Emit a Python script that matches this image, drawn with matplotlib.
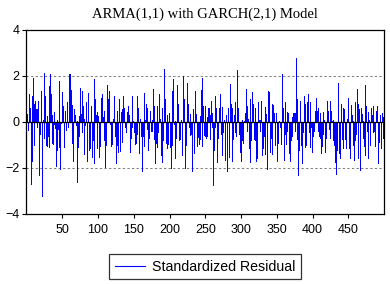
import numpy as np
import matplotlib
matplotlib.use("Agg")
import matplotlib.pyplot as plt

# standardized residuals
resid_1 = [0.35, -0.33, 0.1, 1.2, 0.6, -2.7, 1.15, -1.7, 1.9, 0.8, -1.0, 0.9, 0.55, 0.55, -0.2, 0.9,
           -2.3, -1.0, -0.5, 1.35, -2.15, -3.2, 0.1, 2.15, -0.7, 1.15, -1.0, 0.25, -1.05, -0.6, -1.1,
           1.55, 2.1, 1.2, 0.3, -0.9, -0.95, 0.45, -0.1, -0.25, -1.9, -1.2, 0.1, -0.3, 1.8, -1.1,
           -2.05, -0.05, 1.3, 1.25, 0.7, -1.1, -0.95, 0.5, -0.35, 0.85, 0.3, -0.2, 1.55, 2.1, 2.1,
           1.4, 0.75, -0.9, -1.7, 0.45, 0.55, 0.3, -0.15, 0.05, -2.6, -1.1, -0.6, 0.25, 1.5, 0.35,
           -0.45, 1.35, 0.7, -1.4, 0.15, -0.15, 0.85, -1.7]
resid_2 = [-0.25, 1.25, -1.2, -0.6, -1.15, 0.7, -1.1, -1.5, -0.8, -1.8, 1.85, 1.0, 0.3, -1.15, 0.45,
           0.25, -1.5, -0.7, -1.05, 1.05, 0.5, 1.2, 0.2, -0.8, 0.5, -1.95, -1.0, 0.35, 1.6, 1.0, 1.35,
           0.3, -0.1, -1.05, -0.95, -0.5, 0.15, 0.85, 1.15, -0.6, -1.8, -1.0, 0.5, -1.3, 1.0, 0.5,
           -1.25, 0.45, -0.85, 0.55, 1.15, 0.6, 0.15, -0.2, -0.45, 0.15, 0.45, 0.7, 0.3, 0.05, -1.3,
           -0.7, -0.2, 1.15, 0.05, -0.45, 0.02, -0.95, -0.9, -0.5, 1.15, 0.6, -1.35, -0.7, 0.15, -0.6,
           -2.15, -1.25, -0.6, 1.25, -1.05, 0.1, 0.8, 0.6, -0.3]
resid_3 = [-1.2, -0.7, -0.3, 0.5, -0.4, 0.1, -0.4, 1.45, 0.7, -0.75, -1.8, -0.9, 0.7, -1.1, -0.45,
           1.2, 0.6, 0.15, -1.45, 0.6, -1.75, -0.8, 0.05, 2.3, 1.0, -0.9, -1.15, 0.3, -0.95, 0.4,
           -1.1, -0.7, -2.0, -1.0, 1.35, 1.85, -0.1, 0.05, -1.55, -0.7, 0.85, 1.6, 0.8, -0.8, -0.75,
           -0.7, 0.1, -1.45, -0.5, 2.0, 1.0, -0.45, -2.0, -1.0, 0.3, 1.7, 0.8, -0.2, 0.35, -0.55,
           -0.5, -2.15, -1.2, 0.55, -1.35, 1.35, 0.6, 0.35, -0.8, -1.05, -0.65, -0.95, 0.25, -0.75,
           1.4, 1.9, -1.05, 0.7, -0.55, 0.7, -0.6, -0.7, 0.2, -0.6]
resid_4 = [0.6, 0.6, 0.3, -0.75, 0.9, 0.4, -0.2, -2.75, -1.2, -0.2, 1.15, 0.6, -1.75, -1.4, -0.7,
           0.6, 1.2, 0.6, -0.5, 0.65, -1.45, -0.45, 0.1, -1.65, -0.8, 0.3, -2.15, -1.0, 0.6, -1.5,
           1.65, 0.8, 0.8, 0.6, -1.7, -0.75, 0.3, -0.45, 0.85, -0.6, 2.25, 1.0, 0.6, -0.5, -0.6,
           -1.3, -1.7, -0.8, 0.1, -0.9, 0.05, 0.4, 0.3, 1.45, 0.7, -0.4, 0.15, -1.15, 1.0, -1.75,
           -0.8, 0.35, 1.3, 0.8, -0.75, -0.8, 0.6, -1.7, -1.55, -0.7, 0.85, 0.1, -0.4, 0.08, 0.9,
           -1.45, -0.8, -1.15, -0.6, -1.4, 0.65, 0.35, -1.85, -2.05]
resid_5 = [1.35, 1.3, -0.1, -1.3, -0.7, -1.4, 0.8, 0.75, 0.4, -1.0, -0.75, 0.4, -0.45, -1.7, -0.9,
           0.05, -0.2, -0.1, -0.95, 2.1, 1.3, 0.6, -1.65, -0.5, 0.85, -0.95, -0.4, 0.45, 0.4, -1.35,
           -1.25, -1.7, -0.8, 0.2, -0.6, 0.4, 0.4, -0.4, 0.4, 2.8, 1.0, -0.75, -2.3, -1.2, 0.45, 0.9,
           -1.0, -1.8, -0.9, -0.45, 1.15, 0.8, -1.1, -1.0, 0.85, 0.4, 1.2, -0.45, -1.1, 0.85, -0.2,
           -1.3, -0.6, -0.3, -0.4, 0.05, 0.5, 1.05, 0.5, -0.4, 0.6, -0.6, -0.7, 0.4, -1.35, -1.05,
           -0.5, 0.45, 0.1, -1.05, -1.3, -0.7, 0.9, 0.5]
resid_6 = [0.1, -0.3, -0.7, 0.9, 0.5, 0.05, -0.8, 0.1, -1.0, -0.5, -1.75, -2.25, -1.2, 1.7, 0.9,
           -1.35, -0.6, -1.55, 0.8, -0.75, -1.15, 0.6, 0.55, -0.75, -0.4, -1.15, 0.15, 1.05, 0.35,
           -1.15, -1.55, -0.65, 0.75, 0.3, 0.05, -1.0, -1.65, -0.8, 0.85, -0.5, 1.45, 0.8, -1.55,
           0.55, -2.1, -1.0, 0.6, 0.35, -0.7, 0.05, -1.05, -1.45, 1.6, 0.7, -0.4, -1.55, 0.45, 0.1,
           -1.0, -0.65, 0.6, 0.3, 0.7, -0.45, -0.4, -0.85, -1.05, 0.5, 0.7, -1.8, -0.5, -0.85, 0.3,
           0.25, -1.15, 0.4, 0.2, -0.7, -0.3]

resid = np.array(resid_1 + resid_2 + resid_3 + resid_4 + resid_5 + resid_6)
obs = np.arange(1, len(resid) + 1)

x_ticks = [50, 100, 150, 200, 250, 300, 350, 400, 450]
y_ticks = [-4, -2, 0, 2, 4]
title = "ARMA(1,1) with GARCH(2,1) Model"
label = "Standardized Residual"

sans = "Liberation Sans"
serif = "Liberation Serif"

fig = plt.figure(figsize=(3.9, 2.84), dpi=100)
ax = fig.add_axes([26.5 / 390, 70 / 284, (384 - 26.5) / 390, 184 / 284])

ax.axhline(2, color="#808080", lw=0.75, dashes=(2.2, 2.2), zorder=1)
ax.axhline(-2, color="#808080", lw=0.75, dashes=(2.2, 2.2), zorder=1)
ax.vlines(obs, 0, resid, color="#0000ff", lw=0.5, antialiased=False, zorder=2)
ax.axhline(0, color="black", lw=0.9, zorder=3)
# proxy line for legend
ax.plot([], [], color="#0000ff", lw=0.8, label=label)

ax.set_xlim(0, 500)
ax.set_ylim(-4, 4)
ax.set_xticks(x_ticks)
ax.set_yticks(y_ticks)
ax.tick_params(axis="both", direction="out", length=3, width=0.8, labelsize=9, pad=2)
ax.tick_params(axis="x", pad=4)
for lbl in ax.get_xticklabels() + ax.get_yticklabels():
    lbl.set_family(sans)
for s in ax.spines.values():
    s.set_linewidth(0.9)
    s.set_color("black")

fig.text(205 / 390, 1 - 14 / 284, title, ha="center", va="center",
         family=serif, fontsize=10.5)

leg = ax.legend(loc="upper center", bbox_to_anchor=(0.5, -0.217), borderaxespad=0,
                frameon=True, fancybox=False, handlelength=2.1, handletextpad=0.5,
                borderpad=0.4, prop={"family": sans, "size": 10.2})
leg.get_frame().set_edgecolor("black")
leg.get_frame().set_linewidth(0.9)

fig.savefig("out.png", dpi=100)
